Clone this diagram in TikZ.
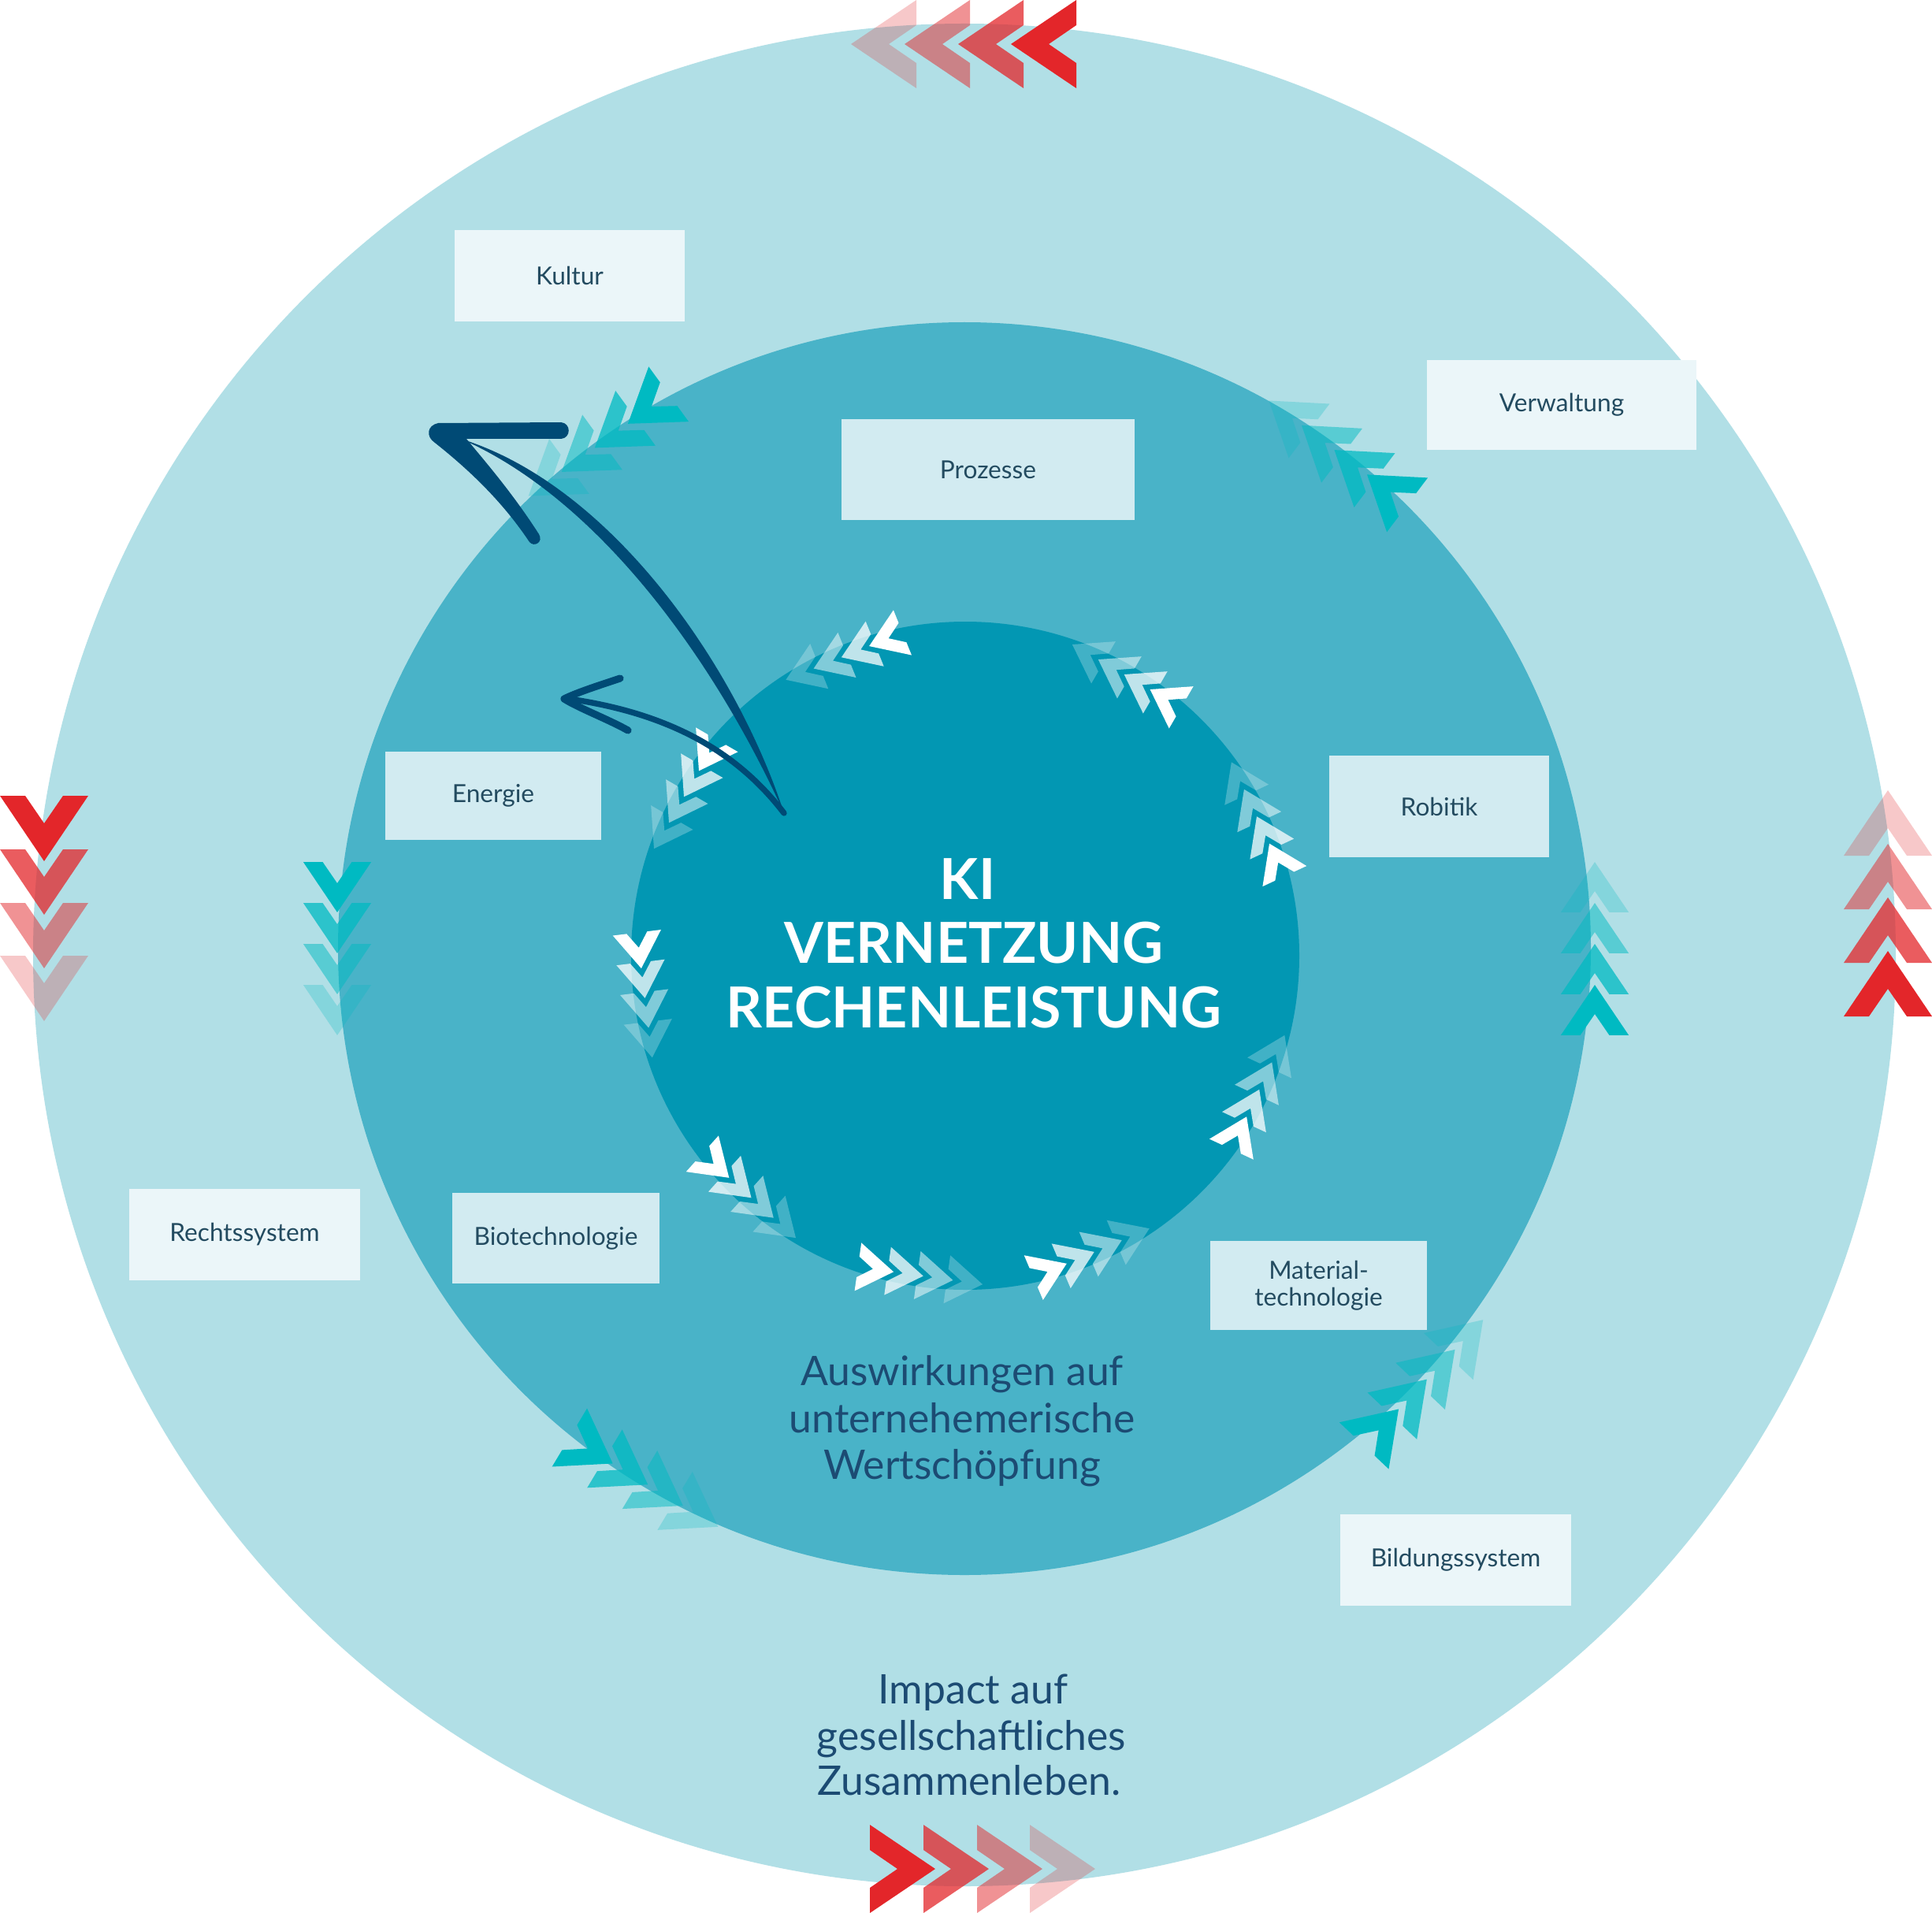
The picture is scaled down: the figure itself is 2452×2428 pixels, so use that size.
\documentclass[tikz,border=0pt]{standalone}
\usepackage{fontspec}
\setmainfont{Lato}
\definecolor{outerc}{HTML}{B1DFE6}
\definecolor{midc}{HTML}{49B3C8}
\definecolor{innerc}{HTML}{0297B3}
\definecolor{tealc}{HTML}{00BAC2}
\definecolor{redc}{HTML}{E3262A}
\definecolor{arrowc}{HTML}{004A75}
\definecolor{boxout}{HTML}{EBF6F9}
\definecolor{boxin}{HTML}{D2EBF1}
\definecolor{lbltext}{HTML}{234B60}
\definecolor{navytext}{HTML}{1C4B73}
% chevron: x, y, angle, scale, style
\newcommand\chev[5]{\fill[#5,shift={(#1,#2)},rotate=#3,scale=#4] (41.5,0) -- (-41.5,56) -- (-41.5,24) -- (-6.5,0) -- (-41.5,-24) -- (-41.5,-56) -- cycle;}
% group: cx, cy, R, phi, spacing, scale, colour
\newcommand\chevgroup[7]{%
  \foreach \k in {0,...,3}{%
    \pgfmathsetmacro\dd{(\k-1.5)*#5}%
    \pgfmathsetmacro\px{#1+#3*cos(#4)-(\dd)*sin(#4)}%
    \pgfmathsetmacro\py{#2-#3*sin(#4)-(\dd)*cos(#4)}%
    \pgfmathsetmacro\op{1-0.25*\k}%
    \chev{\px}{\py}{#4+90}{#6}{#7,fill opacity=\op}%
  }}
\begin{document}
\begin{tikzpicture}[x=0.01cm,y=-0.01cm,
  outbox/.style={fill=boxout,text=lbltext,inner sep=0pt,align=center,font=\fontsize{9pt}{9.8pt}\selectfont},
  inbox/.style={fill=boxin,text=lbltext,inner sep=0pt,align=center,font=\fontsize{9pt}{9.8pt}\selectfont},
  ctrtext/.style={text=white,inner sep=0pt,anchor=base,font=\fontsize{20.4pt}{24pt}\selectfont\bfseries},
  bigtext/.style={text=navytext,inner sep=0pt,anchor=base,font=\fontsize{14.7pt}{17pt}\selectfont},
  arrowline/.style={draw=arrowc,line cap=round,line join=round}]
\useasboundingbox (0,0) rectangle (2452,2428);
\fill[white] (0,0) rectangle (2452,2428);
% circles
\fill[outerc] (1224,1212) circle[radius=1182];
\fill[midc] (1224,1204) circle[radius=795];
\fill[innerc] (1225,1213) circle[radius=424];
% teal chevron groups on the middle ring
\foreach \ph/\rr in {180/796,126/790,53/788,0/800,-43.4/802,-121/790}{\chevgroup{1224}{1204}{\rr}{\ph}{52}{0.77}{tealc}}
% white chevron groups on the inner circle
\foreach \ph in {112,60,25,-25,-67,-98,-132,-173,150}{\chevgroup{1225}{1213}{410}{\ph}{38}{0.55}{white}}
% red chevrons on the outer ring
\foreach \xx/\op in {1324.5/1,1257.5/0.75,1189.5/0.5,1121.5/0.25}{\chev{\xx}{56}{180}{1}{redc,fill opacity=\op}}
\foreach \yy/\op in {1051.5/1,1119.5/0.75,1187.5/0.5,1254.5/0.25}{\chev{56}{\yy}{-90}{1}{redc,fill opacity=\op}}
\foreach \xx/\op in {1145.5/1,1213.5/0.75,1281.5/0.5,1348.5/0.25}{\chev{\xx}{2372}{0}{1}{redc,fill opacity=\op}}
\foreach \yy/\op in {1248.5/1,1180.5/0.75,1112.5/0.5,1044.5/0.25}{\chev{2396}{\yy}{90}{1}{redc,fill opacity=\op}}
% label boxes
\node[outbox,minimum width=2.92cm,minimum height=1.16cm] (kultur) at (723,350) {Kultur};
\node[outbox,minimum width=3.42cm,minimum height=1.14cm] (verwaltung) at (1982,514) {Verwaltung};
\node[inbox,minimum width=3.72cm,minimum height=1.28cm] (prozesse) at (1254,596) {Prozesse};
\node[inbox,minimum width=2.79cm,minimum height=1.29cm] (robitik) at (1826.5,1023.5) {Robitik};
\node[inbox,minimum width=2.74cm,minimum height=1.12cm] (energie) at (626,1010) {Energie};
\node[outbox,minimum width=2.93cm,minimum height=1.16cm] (recht) at (310.5,1567) {Rechtssystem};
\node[inbox,minimum width=2.63cm,minimum height=1.15cm] (bio) at (705.5,1571.5) {Biotechnologie};
\node[inbox,minimum width=2.75cm,minimum height=1.13cm] (material) at (1673.5,1631.5) {Material-\\technologie};
\node[outbox,minimum width=2.93cm,minimum height=1.16cm] (bildung) at (1847.5,1980) {Bildungssystem};
% centre text
\node[ctrtext] (ki) at (1228,1141) {KI};
\node[ctrtext] (vernetzung) at (1236,1222) {VERNETZUNG};
\node[ctrtext] (rechen) at (1236,1304) {RECHENLEISTUNG};
% ring texts
\node[bigtext] (aus1) at (1221,1758) {Auswirkungen auf};
\node[bigtext] (aus2) at (1221,1818) {unternehemerische};
\node[bigtext] (aus3) at (1221,1877) {Wertschöpfung};
\node[bigtext] (imp1) at (1235,2162) {Impact auf};
\node[bigtext] (imp2) at (1233,2221) {gesellschaftliches};
\node[bigtext] (imp3) at (1230,2278) {Zusammenleben.};
% big arrow
\coordinate (tail) at (995,1032);
\fill[arrowc] (585,557) .. controls (773.6,615.6) and (933.2,842) .. (tail) .. controls (912.8,850) and (766.4,636.4) .. (585,557) -- cycle;
\fill[arrowc] (556,537) -- (712,536) .. controls (725,537) and (725,556) .. (712,557) -- (592,557) .. controls (615,585) and (650,625) .. (684,678) .. controls (690,688) and (678,695) .. (672,688) .. controls (640,640) and (600,600) .. (552,562) .. controls (540,554) and (542,540) .. (556,537) -- cycle;
% small arrow
\draw[arrowline,line width=2.1pt] (tail) .. controls (930,947) and (839,904) .. (722,887);
\draw[arrowline,line width=2.6pt] (787,861) .. controls (760,870) and (732,879) .. (716,887) .. controls (735,899) and (770,912) .. (797,927);
\end{tikzpicture}
\end{document}
